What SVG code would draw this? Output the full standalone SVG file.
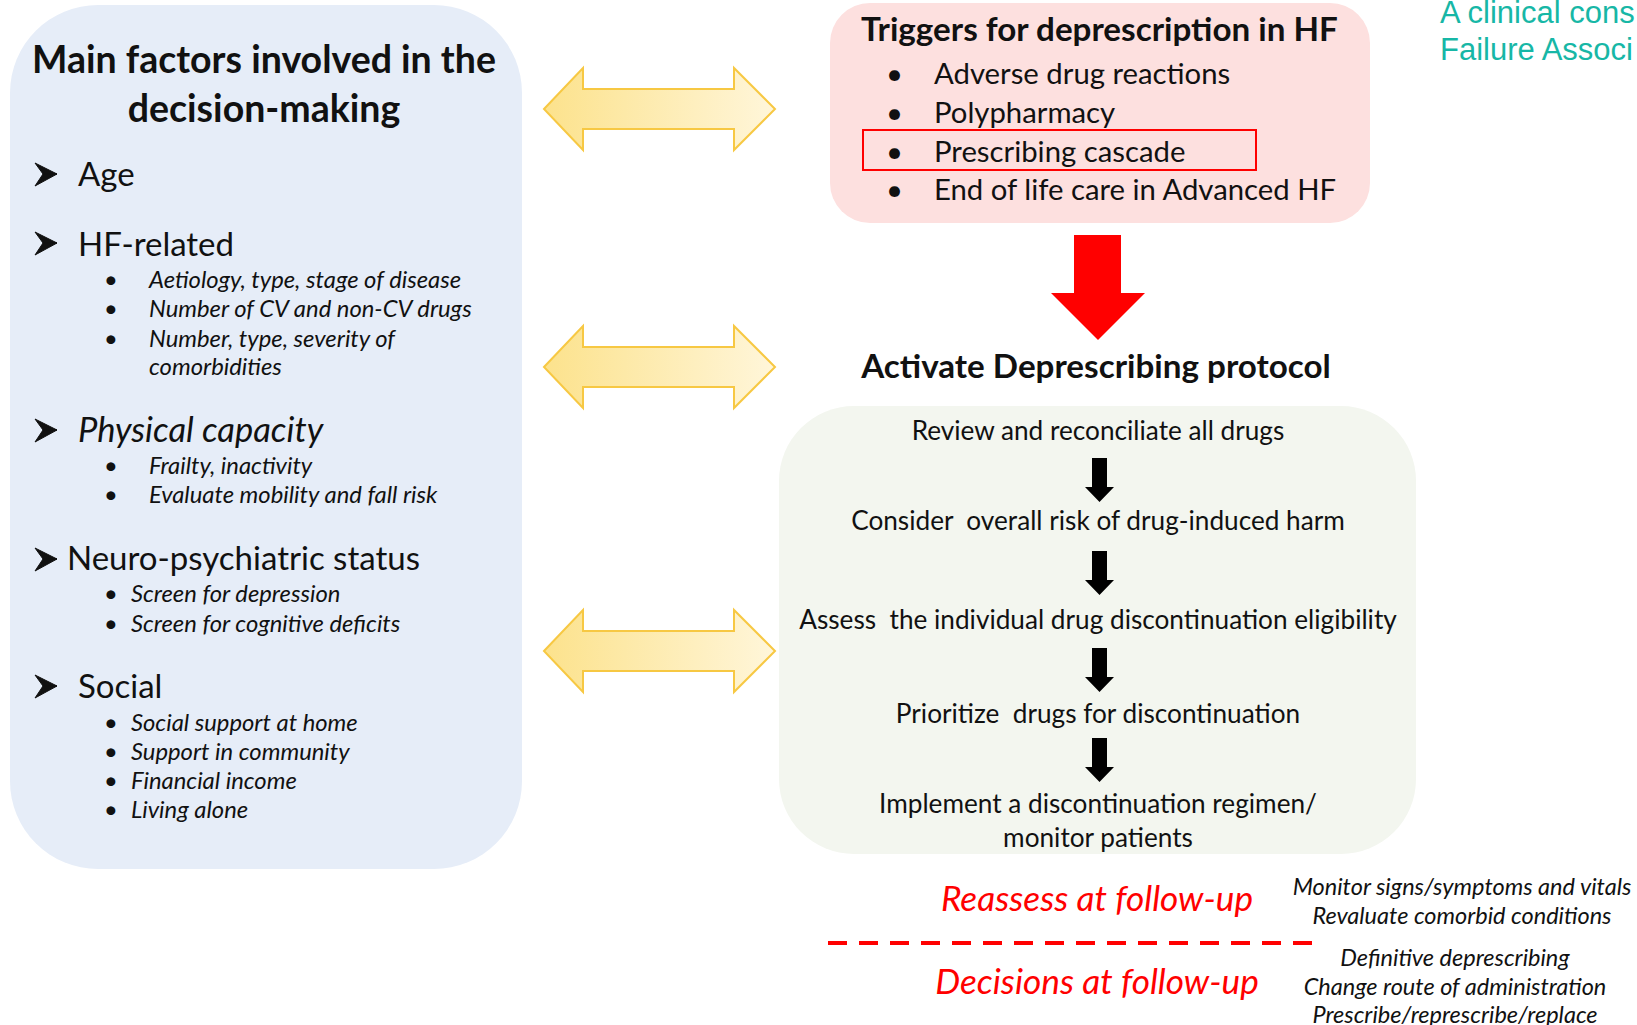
<svg xmlns="http://www.w3.org/2000/svg" width="1637" height="1025" viewBox="0 0 1637 1025">
<defs>
<linearGradient id="yg" x1="0" y1="0" x2="1" y2="0">
<stop offset="0" stop-color="#fce28c"/>
<stop offset="1" stop-color="#fff6da"/>
</linearGradient>
<path id="bul" d="M0,-11 L22,0 L8,0 Z M8,0 L22,0 L0,12 Z"/>
</defs>
<style>
text{font-family:Lato,"Open Sans",sans-serif;fill:#111}
.h{font-weight:bold;font-size:37.5px}
.l1{font-size:33px}
.sub{font-size:23.8px;font-style:italic}
.tt{font-weight:bold;font-size:33.2px}
.ti{font-size:29.3px}
.st{font-size:26.2px;text-anchor:middle}
.red{font-size:35.2px;font-style:italic;fill:#ff0000;text-anchor:middle}
.note{font-size:23.5px;font-style:italic;text-anchor:middle}
.c{text-anchor:middle}
.ya{fill:url(#yg);stroke:#f7c843;stroke-width:2}
.ba{fill:#000}
.ab{fill:#111;stroke:#111;stroke-width:1;stroke-linejoin:round}
</style>
<rect width="1637" height="1025" fill="#fff"/>

<g id="factors">
<rect x="10" y="5" width="512" height="864" rx="88" fill="#e6edf8"/>
<text class="h c" x="264" y="73">Main factors involved in the</text>
<text class="h c" x="264" y="122">decision-making</text>
<use href="#bul" x="35" y="174" class="ab"/>
<text class="l1" x="78" y="186">Age</text>
<use href="#bul" x="35" y="243" class="ab"/>
<text class="l1" x="78" y="256">HF-related</text>
<text class="sub" x="104" y="288">•</text>
<text class="sub" x="149" y="288">Aetiology, type, stage of disease</text>
<text class="sub" x="104" y="317">•</text>
<text class="sub" x="149" y="317">Number of CV and non-CV drugs</text>
<text class="sub" x="104" y="347">•</text>
<text class="sub" x="149" y="347">Number, type, severity of</text>
<text class="sub" x="149" y="375">comorbidities</text>
<use href="#bul" x="35" y="430" class="ab"/>
<text class="l1" x="78" y="442" style="font-style:italic;font-size:34.5px">Physical capacity</text>
<text class="sub" x="104" y="474">•</text>
<text class="sub" x="149" y="474">Frailty, inactivity</text>
<text class="sub" x="104" y="503">•</text>
<text class="sub" x="149" y="503">Evaluate mobility and fall risk</text>
<use href="#bul" x="35" y="559" class="ab"/>
<text class="l1" x="67" y="570">Neuro-psychiatric status</text>
<text class="sub" x="104" y="602">•</text>
<text class="sub" x="131" y="602">Screen for depression</text>
<text class="sub" x="104" y="632">•</text>
<text class="sub" x="131" y="632">Screen for cognitive deficits</text>
<use href="#bul" x="35" y="686" class="ab"/>
<text class="l1" x="78" y="698">Social</text>
<text class="sub" x="104" y="731">•</text>
<text class="sub" x="131" y="731">Social support at home</text>
<text class="sub" x="104" y="760">•</text>
<text class="sub" x="131" y="760">Support in community</text>
<text class="sub" x="104" y="789">•</text>
<text class="sub" x="131" y="789">Financial income</text>
<text class="sub" x="104" y="818">•</text>
<text class="sub" x="131" y="818">Living alone</text>
</g>

<g id="triggers">
<rect x="830" y="3" width="540" height="220" rx="40" fill="#fde0df"/>
<rect x="863" y="130" width="393" height="40" fill="none" stroke="#ff0000" stroke-width="2"/>
<text class="tt" x="861" y="41">Triggers for deprescription in HF</text>
<text class="ti" x="886" y="84">•</text>
<text class="ti" x="934" y="84">Adverse drug reactions</text>
<text class="ti" x="886" y="123">•</text>
<text class="ti" x="934" y="123">Polypharmacy</text>
<text class="ti" x="886" y="162">•</text>
<text class="ti" x="934" y="162">Prescribing cascade</text>
<text class="ti" x="886" y="200">•</text>
<text class="ti" x="934" y="200">End of life care in Advanced HF</text>
</g>

<g id="activate">
<text class="tt c" x="1096" y="378">Activate Deprescribing protocol</text>
</g>

<g id="protocol">
<rect x="779" y="406" width="637" height="448" rx="75" fill="#f3f6ef"/>
<text class="st" x="1098" y="440">Review and reconciliate all drugs</text>
<text class="st" x="1098" y="530" xml:space="preserve">Consider  overall risk of drug-induced harm</text>
<text class="st" x="1098" y="629" xml:space="preserve">Assess  the individual drug discontinuation eligibility</text>
<text class="st" x="1098" y="723" xml:space="preserve">Prioritize  drugs for discontinuation</text>
<text class="st" x="1098" y="813">Implement a discontinuation regimen/</text>
<text class="st" x="1098" y="847">monitor patients</text>
</g>

<g id="followup">
<text class="red" x="1097" y="911">Reassess at follow-up</text>
<text class="red" x="1097" y="994">Decisions at follow-up</text>
</g>

<g id="notes">
<text class="note" x="1462" y="895">Monitor signs/symptoms and vitals</text>
<text class="note" x="1462" y="924">Revaluate comorbid conditions</text>
<text class="note" x="1455" y="966">Definitive deprescribing</text>
<text class="note" x="1455" y="995">Change route of administration</text>
<text class="note" x="1455" y="1023">Prescribe/represcribe/replace</text>
</g>

<g id="caption">
<text x="1440" y="23" style="font-family:'Liberation Sans',Arial,sans-serif;font-size:31px;fill:#17b7a6">A clinical cons</text>
<text x="1440" y="60" style="font-family:'Liberation Sans',Arial,sans-serif;font-size:31px;fill:#17b7a6">Failure Associ</text>
</g>

<g id="connectors">
<polygon class="ya" points="544,109 583,68 583,89 734,89 734,68 775,109 734,150 734,129 583,129 583,150"/>
<polygon class="ya" points="544,367 583,326 583,347 734,347 734,326 775,367 734,408 734,387 583,387 583,408"/>
<polygon class="ya" points="544,651 583,610 583,631 734,631 734,610 775,651 734,692 734,671 583,671 583,692"/>
<polygon fill="#ff0000" points="1074,235 1121,235 1121,293 1145,293 1098,340 1051,293 1074,293"/>
<polygon class="ba" points="1092,458 1107,458 1107,487 1114,487 1099.5,502 1085,487 1092,487"/>
<polygon class="ba" points="1092,551 1107,551 1107,580 1114,580 1099.5,595 1085,580 1092,580"/>
<polygon class="ba" points="1092,648 1107,648 1107,677 1114,677 1099.5,692 1085,677 1092,677"/>
<polygon class="ba" points="1092,738 1107,738 1107,767 1114,767 1099.5,782 1085,767 1092,767"/>
<line x1="828" y1="943" x2="1313" y2="943" stroke="#ff0000" stroke-width="4" stroke-dasharray="19 12"/>
</g>
</svg>
